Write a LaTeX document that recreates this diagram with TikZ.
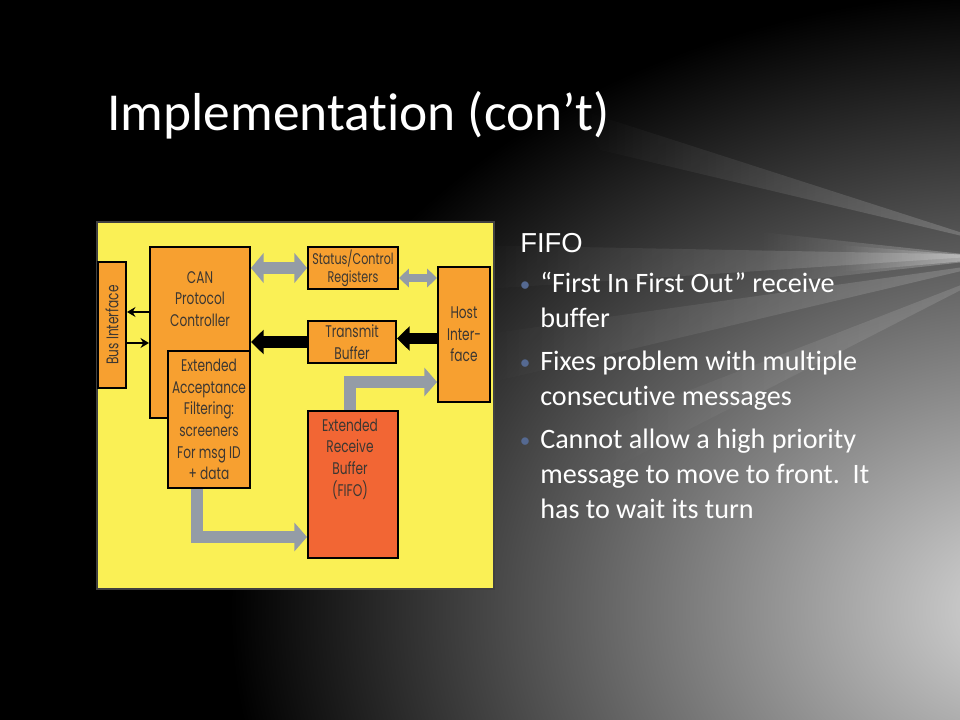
\documentclass[tikz,border=0pt]{standalone}
\usepackage{fontspec}
\setmainfont{Carlito}[Ligatures=NoCommon]
\newfontfamily\fifofont{Liberation Sans}
\newfontfamily\boxfont[FakeStretch=0.72]{Poppins}
\usetikzlibrary{calc,positioning,arrows.meta,fadings}

\definecolor{canyellow}{RGB}{250,240,85}
\definecolor{canorange}{RGB}{247,160,48}
\definecolor{canred}{RGB}{242,102,52}
\definecolor{pipegray}{RGB}{148,156,166}
\definecolor{boxtext}{RGB}{60,55,50}
\definecolor{dotblue}{RGB}{85,105,145}

\tikzfading[name=streak,left color=transparent!100,right color=transparent!0]

\newcommand{\bul}{\llap{\textcolor{dotblue}{\fontsize{15}{15}\selectfont\raisebox{1pt}{\textbullet}}\hspace{7pt}}}

\tikzset{
	unit/.style={draw=black,line width=1.4pt,fill=canorange,inner sep=0pt},
	boxtxt/.style={font=\boxfont\fontsize{12}{15.4}\selectfont,text=boxtext,align=center,inner sep=0pt},
	pipe/.style={pipegray,line width=8.5pt,-{Triangle[length=9pt,width=20pt]}},
	bigpipe/.style={pipegray,line width=9pt,{Triangle[length=9pt,width=21pt]}-{Triangle[length=9pt,width=21pt]}},
	smallpipe/.style={pipegray,line width=5.5pt,{Triangle[length=7pt,width=13pt]}-{Triangle[length=7pt,width=13pt]}},
	push/.style={black,line width=8.5pt,-{Triangle[length=9pt,width=17pt]}},
	wire/.style={black,line width=1.4pt,-{Stealth[length=6pt,width=7pt]}},
	streakfill/.style={white,path fading=streak}
}

\begin{document}
\begin{tikzpicture}[x=0.025cm,y=-0.025cm]
	\useasboundingbox (0,0) rectangle (960,720);
	% background
	\begin{scope}
		\clip (0,0) rectangle (960,720);
		\fill[black] (0,0) rectangle (960,720);
		\shade[inner color=black!15,outer color=black] (1030,610) ellipse (800 and 620);
		\fill[streakfill,opacity=.2] (1000,245) -- (580,110) -- (600,150) -- cycle;
		\fill[streakfill,opacity=.2] (1000,255) -- (470,245) -- (470,290) -- cycle;
		\fill[streakfill,opacity=.18] (1000,262) -- (480,335) -- (480,385) -- cycle;
		\fill[streakfill,opacity=.15] (1000,270) -- (600,425) -- (600,475) -- cycle;
		\fill[streakfill,opacity=.3] (1000,258) -- (760,232) -- (760,285) -- cycle;
		\fill[streakfill,opacity=.4] (1000,258) -- (840,245) -- (840,272) -- cycle;
	\end{scope}

	\node[text=white,font=\fontsize{38}{42}\selectfont,anchor=base west,inner sep=0pt](title)at(107,131) {Implementation (con’t)};

	% block diagram
	\draw[fill=canyellow,draw=black!75,line width=1.4pt] (97,222) rectangle (494,589);

	\node[unit,rotate=90,minimum width=3.15cm,minimum height=0.7cm,boxtxt](bus)at(112,325) {Bus Interface};
	\node[unit,minimum width=2.5cm,minimum height=4.275cm](can)at(200,332.5) {};
	\node[boxtxt](cantxt)at($(can.north)+(0,53)$) {CAN\\Protocol\\Controller};
	\node[unit,minimum width=2.05cm,minimum height=3.425cm,boxtxt](filt)at(209,419.5) {Extended\\Acceptance\\Filtering:\\screeners\\For msg ID\\+ data};
	\node[unit,minimum width=2.25cm,minimum height=1.05cm,boxtxt,font=\boxfont\fontsize{11}{13}\selectfont](stat)at(353,268) {Status/Control\\Registers};
	\node[unit,minimum width=2.2cm,minimum height=1.05cm,boxtxt](tx)at(352,342) {Transmit\\Buffer};
	\node[unit,minimum width=1.3cm,minimum height=3.375cm,boxtxt](host)at(464,334.5) {Host\\Inter-\\face};
	\node[unit,fill=canred,minimum width=2.25cm,minimum height=3.675cm](rx)at(353,484.5) {};
	\node[boxtxt](rxtxt)at($(rx.north)+(-3,49)$) {Extended\\Receive\\Buffer\\(FIFO)};

	\draw[bigpipe] (can.east |- stat.west) -- (stat.west);
	\draw[smallpipe] ($(stat.east)+(0,10)$) -- ($(stat.east -| host.west)+(0,10)$);
	\draw[push] (tx.west) -- (tx.west -| can.east);
	\draw[push] ($(host.west)+(0,4)$) -- ($(host.west -| tx.east)+(0,4)$);
	\draw[pipe] ($(rx.north)+(-3,0)$) |- ($(host.west)+(0,47.5)$);
	\draw[pipe] ($(filt.south)+(-12,0)$) |- ($(rx.west)+(0,52.5)$);
	\draw[wire] ($(can.west)+(0,-20.5)$) coordinate (c1) -- (c1 -| bus.south);
	\draw[wire] ($(bus.south)+(0,18)$) coordinate (b1) -- (b1 -| can.west);

	% text
	\node[text=white,font=\fifofont\fontsize{19.5}{22}\selectfont,anchor=base west,inner sep=0pt](fifo)at(520,253) {FIFO};
	\node[text=white,font=\fontsize{20}{24.9}\selectfont,align=left,anchor=north west,inner sep=0pt](points)at(540,272) {\bul“First In First Out” receive\\buffer\\[5.7pt]\bul Fixes problem with multiple\\consecutive messages\\[5.7pt]\bul Cannot allow a high priority\\message to move to front.\ \ It\\has to wait its turn};
\end{tikzpicture}
\end{document}
